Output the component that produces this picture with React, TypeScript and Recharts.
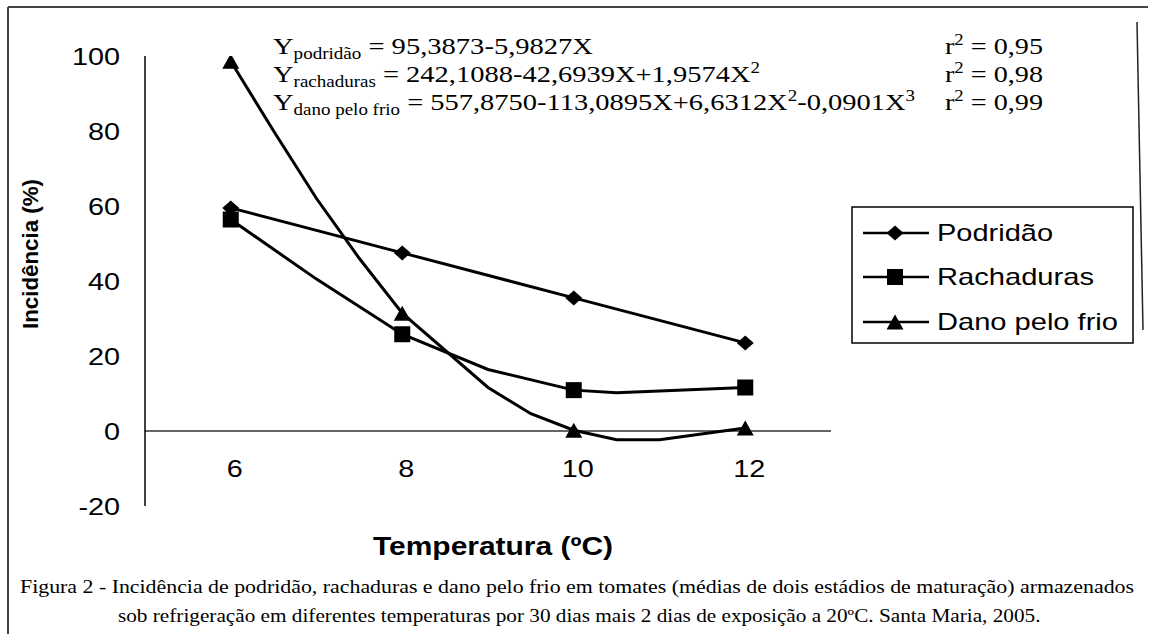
import React from 'react';
import { LineChart, Line, XAxis, YAxis, ReferenceLine } from 'recharts';

// Temperaturas (ºC) com as médias observadas
const temps = [6, 8, 10, 12];
const podridao = [59.5, 47.5, 35.5, 23.5];

// Curvas ajustadas
const rachCurveT = [6, 7, 8, 9, 10, 10.5, 12];
const rachCurveV = [56.4, 40.5, 25.8, 16.4, 10.9, 10.2, 11.6];
const danoCurveT = [6, 6.5, 7, 7.5, 8, 9, 9.5, 10, 10.5, 11, 12];
const danoCurveV = [98.6, 80, 62, 46, 31.4, 11.6, 4.6, 0.2, -2.3, -2.3, 0.8];

const yTicks = [-20, 0, 20, 40, 60, 80, 100];

const serif = '"Liberation Serif", "Times New Roman", serif';
const sans = '"Liberation Sans", Arial, sans-serif';

const podData = temps.map((t, i) => ({ t, v: podridao[i] }));
const rachData = rachCurveT.map((t, i) => ({ t, v: rachCurveV[i] }));
const danoData = danoCurveT.map((t, i) => ({ t, v: danoCurveV[i] }));

const Diamond = ({ cx, cy, w = 17, h = 15 }: any) => (
  <path d={`M${cx} ${cy - h / 2}L${cx + w / 2} ${cy}L${cx} ${cy + h / 2}L${cx - w / 2} ${cy}Z`} fill="#000" />
);
const Square = ({ cx, cy, s = 16 }: any) => (
  <rect x={cx - s / 2} y={cy - s / 2} width={s} height={s} fill="#000" />
);
const Triangle = ({ cx, cy, w = 17, h = 15 }: any) => (
  <path d={`M${cx} ${cy - h / 2}L${cx + w / 2} ${cy + h / 2}L${cx - w / 2} ${cy + h / 2}Z`} fill="#000" />
);

// only the measured temperatures get a marker
const markerDot = (Shape: any) => (props: any) => {
  const { cx, cy, payload, index } = props;
  if (!temps.includes(payload.t)) return <g key={`d${index}`} />;
  return <Shape key={`d${index}`} cx={cx} cy={cy} />;
};

const XTick = ({ x, y, payload }: any) => (
  <text transform={`translate(${x + 4},${y - 29}) scale(1.2,1)`} textAnchor="middle" fontSize={24} fontFamily={sans} fill="#000">
    {payload.value}
  </text>
);

const YTick = ({ x, y, payload }: any) => (
  <text transform={`translate(${x},${y}) scale(1.2,1)`} textAnchor="end" dy="0.36em" fontSize={24} fontFamily={sans} fill="#000">
    {payload.value}
  </text>
);

const LegendRow = ({ y, label, len, Shape }: any) => (
  <g>
    <line x1={863} x2={929} y1={y} y2={y} stroke="#000" strokeWidth={2.5} />
    <Shape cx={895} cy={y} />
    <text x={937} y={y + 8} fontSize={24} fontFamily={sans} textLength={len} lengthAdjust="spacingAndGlyphs" fill="#000">
      {label}
    </text>
  </g>
);

export default function App() {
  return (
    <div style={{ position: 'absolute', left: 0, top: 0, width: 1154, height: 634, background: '#fff' }}>
      <LineChart width={1154} height={634} margin={{ top: 56, right: 323, bottom: 98, left: 85 }}>
        <XAxis
          type="number"
          dataKey="t"
          domain={[5, 13]}
          ticks={temps}
          axisLine={false}
          tickLine={false}
          tickSize={0}
          tickMargin={0}
          height={30}
          tick={XTick}
          allowDataOverflow
        />
        <YAxis
          type="number"
          domain={[-20, 100]}
          ticks={yTicks}
          interval={0}
          axisLine={{ stroke: '#000', strokeWidth: 1.5 }}
          tickLine={false}
          tickSize={0}
          tickMargin={25}
          width={60}
          tick={YTick}
          allowDataOverflow
        />
        <ReferenceLine y={0} stroke="#333" strokeWidth={1.5} />
        <Line data={podData} dataKey="v" type="linear" stroke="#000" strokeWidth={3} dot={markerDot(Diamond)} isAnimationActive={false} />
        <Line data={rachData} dataKey="v" type="linear" stroke="#000" strokeWidth={3} dot={markerDot(Square)} isAnimationActive={false} />
        <Line data={danoData} dataKey="v" type="linear" stroke="#000" strokeWidth={3} dot={markerDot(Triangle)} isAnimationActive={false} />
      </LineChart>

      <svg width={1154} height={634} style={{ position: 'absolute', left: 0, top: 0, pointerEvents: 'none' }}>
        {/* frame */}
        <path d="M8 7H1148M8 7V634" stroke="#444" strokeWidth={2} fill="none" />
        <line x1={1137} y1={22} x2={1143} y2={330} stroke="#222" strokeWidth={1.5} />

        {/* equations */}
        <g fontFamily={serif} fontSize={24} fill="#000">
          <text x={273} y={54} textLength={320} lengthAdjust="spacingAndGlyphs">
            Y<tspan fontSize={16} dy={5}>podridão</tspan>
            <tspan dy={-5}> = 95,3873-5,9827X</tspan>
          </text>
          <text x={273} y={82} textLength={487} lengthAdjust="spacingAndGlyphs">
            Y<tspan fontSize={16} dy={5}>rachaduras</tspan>
            <tspan dy={-5}> = 242,1088-42,6939X+1,9574X</tspan>
            <tspan fontSize={16} dy={-9}>2</tspan>
          </text>
          <text x={273} y={110} textLength={642} lengthAdjust="spacingAndGlyphs">
            Y<tspan fontSize={16} dy={5}>dano pelo frio</tspan>
            <tspan dy={-5}> = 557,8750-113,0895X+6,6312X</tspan>
            <tspan fontSize={16} dy={-9}>2</tspan>
            <tspan dy={9}>-0,0901X</tspan>
            <tspan fontSize={16} dy={-9}>3</tspan>
          </text>
          {['0,95', '0,98', '0,99'].map((r, i) => (
            <text key={r} x={945} y={54 + i * 28} textLength={98} lengthAdjust="spacingAndGlyphs">
              r<tspan fontSize={16} dy={-9}>2</tspan>
              <tspan dy={9}> = {r}</tspan>
            </text>
          ))}
        </g>

        {/* legend */}
        <rect x={852} y={207} width={281} height={136} fill="#fff" stroke="#000" strokeWidth={1.5} />
        <LegendRow y={233} label="Podridão" len={116} Shape={Diamond} />
        <LegendRow y={277} label="Rachaduras" len={157} Shape={Square} />
        <LegendRow y={322} label="Dano pelo frio" len={181} Shape={Triangle} />

        {/* axis titles */}
        <text
          transform="translate(38,254) rotate(-90)"
          textAnchor="middle"
          fontSize={22}
          fontWeight="bold"
          fontFamily={sans}
          textLength={150}
          lengthAdjust="spacingAndGlyphs"
        >
          Incidência (%)
        </text>
        <text x={373} y={555} fontSize={25} fontWeight="bold" fontFamily={sans} textLength={240} lengthAdjust="spacingAndGlyphs">
          Temperatura (ºC)
        </text>

        {/* caption */}
        <g fontFamily={serif} fontSize={18} fill="#000">
          <text x={20} y={593} textLength={1114} lengthAdjust="spacingAndGlyphs">
            Figura 2 - Incidência de podridão, rachaduras e dano pelo frio em tomates (médias de dois estádios de maturação) armazenados
          </text>
          <text transform="translate(118,622) scale(1.18,1)">
            sob refrigeração em diferentes temperaturas por 30 dias mais 2 dias de exposição a 20ºC. Santa Maria, 2005.
          </text>
        </g>
      </svg>
    </div>
  );
}
